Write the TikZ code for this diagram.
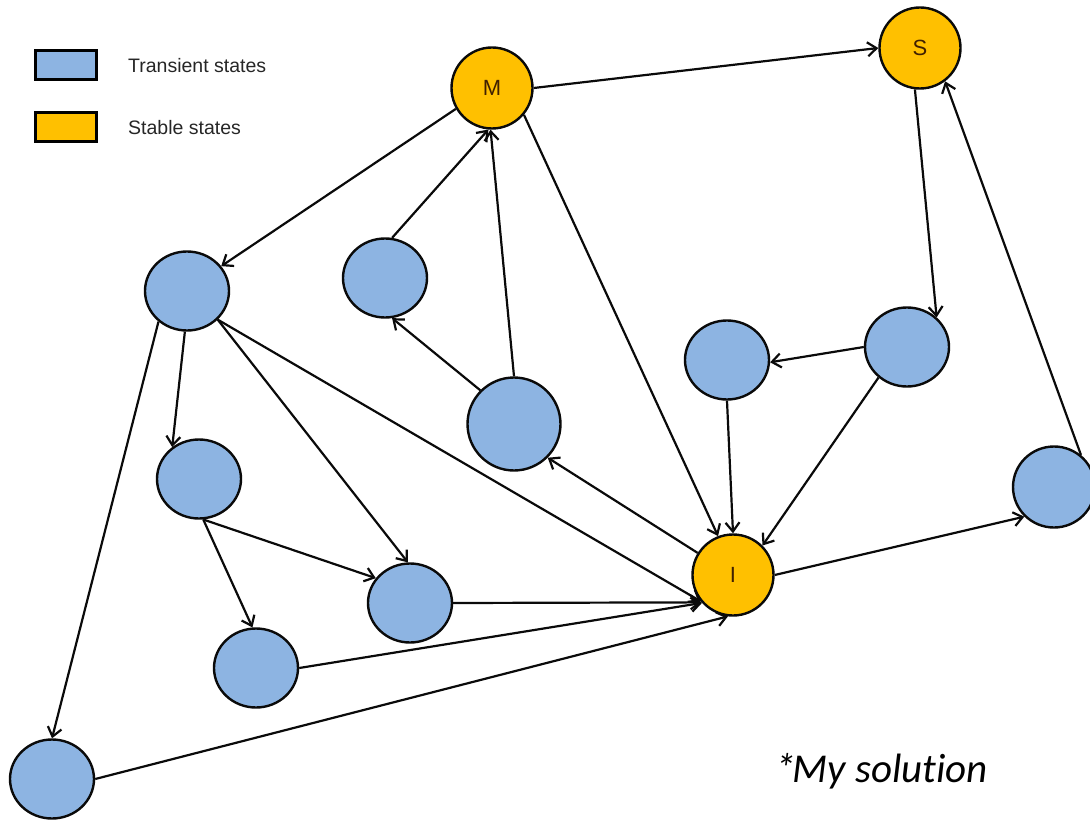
\documentclass[tikz,border=0pt]{standalone}
\usepackage{fontspec}
\setmainfont{Liberation Sans}
\newfontfamily\calibri[Ligatures=NoCommon]{Carlito}
\usetikzlibrary{shapes.geometric,arrows.meta}
\definecolor{tblue}{RGB}{141,180,226}
\definecolor{sorange}{RGB}{255,192,0}
\definecolor{edge}{RGB}{10,10,10}
\tikzset{
  trans/.style={ellipse, draw=edge, line width=2.4pt, fill=tblue, minimum width=84pt, minimum height=79pt, inner sep=0pt},
  stable/.style={circle, draw=edge, line width=2.4pt, fill=sorange, minimum size=81pt, inner sep=0pt, font=\fontsize{22}{24}\selectfont, text=black!75!orange},
  legbox/.style={rectangle, draw=black, line width=2.4pt, minimum width=61pt, minimum height=29pt, inner sep=0pt},
  legtext/.style={anchor=west, font=\fontsize{19.5}{22}\selectfont, text=black!85, inner sep=0pt},
  arr/.style={draw=edge, line width=2.2pt, -{Straight Barb[length=9pt,width=14pt,line width=2.2pt]}}
}
\begin{document}
\begin{tikzpicture}[x=1pt,y=-1pt]
\useasboundingbox (0,0) rectangle (1090,821);
% legend
\node[legbox, fill=tblue] (lb1) at (66,65) {};
\node[legbox, fill=sorange] (lb2) at (66,127) {};
\node[legtext] (lt1) at (128,66) {Transient states};
\node[legtext] (lt2) at (128,128) {Stable states};
% stable states
\node[stable] (M) at (492,88) {M};
\node[stable] (S) at (920,48) {S};
\node[stable] (I) at (733,575) {I};
% transient states
\node[trans] (A) at (187,291) {};
\node[trans] (B) at (385,278) {};
\node[trans, minimum width=93pt, minimum height=93pt] (C) at (514,424) {};
\node[trans] (D) at (727,360) {};
\node[trans] (E) at (907,347) {};
\node[trans, minimum width=82pt, minimum height=81pt] (F) at (1054,487) {};
\node[trans] (G) at (199,479) {};
\node[trans] (H) at (410,603) {};
\node[trans] (J) at (256,668) {};
\node[trans] (K) at (52,779) {};
% edges
\draw[arr] (M.east) -- (S.west);
\draw[arr] (S.-97) -- (E.45);
\draw[arr] (F.50) -- (S.-53);
\draw[arr] (M.-150) -- (A.36);
\draw[arr] (B.80) -- (M.-95);
\draw[arr] (C.north) -- (M.-92);
\draw[arr] (C.135) -- (B.-80);
\draw[arr] (M.-40) -- (I.111);
\draw[arr] (I.148) -- (C.-45);
\draw[arr] (A.-43) -- (I.219);
\draw[arr] (A.-93) -- (G.130);
\draw[arr] (A.-43) -- (H.93);
\draw[arr] (A.-133) -- (K.north);
\draw[arr] (G.-84) -- (H.144);
\draw[arr] (G.-84) -- (J.95);
\draw[arr] (H.east) -- (I.221);
\draw[arr] (J.east) -- (I.222);
\draw[arr] (K.east) -- (I.-97);
\draw[arr] (E.west) -- (D.-3);
\draw[arr] (D.south) -- (I.north);
\draw[arr] (E.-133) -- (I.45);
\draw[arr] (I.east) -- (F.225);
% note
\node[anchor=base west, inner sep=0pt, font=\calibri\itshape\fontsize{41}{46}\selectfont] (note) at (775,782) {*\kern-3pt My solut\kern0pt ion};
\end{tikzpicture}
\end{document}
